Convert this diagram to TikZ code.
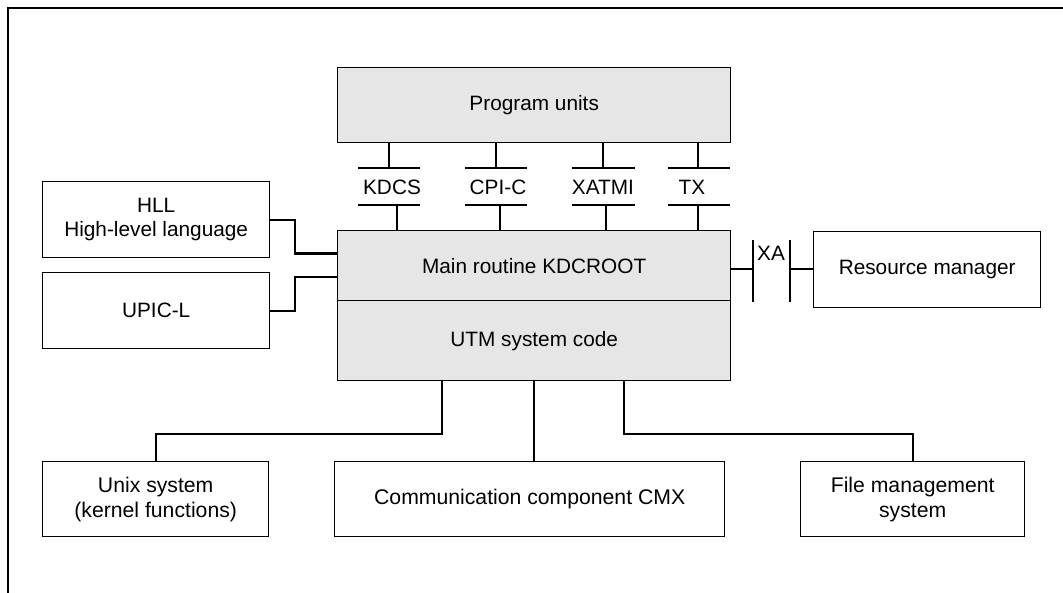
\documentclass[tikz,border=0pt]{standalone}
\usepackage{fontspec}
\setmainfont{Liberation Sans}
\usetikzlibrary{calc}
\definecolor{boxgray}{RGB}{230,230,230}
\tikzset{
  box/.style={draw=black, line width=1.4pt, inner sep=0pt, anchor=north west, align=center,
    font=\fontsize{20.8}{24}\selectfont},
  graybox/.style={box, fill=boxgray},
  lowbox/.style={box, font=\fontsize{21.2}{25}\selectfont},
  conn/.style={draw=black, line width=2.2pt},
  tick/.style={draw=black, line width=1.3pt},
  iflabel/.style={inner sep=0pt, font=\fontsize{20.8}{24}\selectfont},
}
\begin{document}
\begin{tikzpicture}[x=1pt, y=-1pt]
\useasboundingbox (0,0) rectangle (1063,593);
% outer frame (top and left only)
\draw[line width=1.5pt] (8,593) -- (8,8) -- (1063,8);

% main blocks
\node[graybox, minimum width=393pt, minimum height=75pt] (pu) at (337,67) {Program units};
\node[graybox, minimum width=393pt, minimum height=70pt] (mr) at (337,230) {Main routine KDCROOT};
\node[graybox, minimum width=393pt, minimum height=80pt] (utm) at (337,300) {UTM system code};

% left blocks
\node[box, minimum width=227pt, minimum height=76pt] (hll) at (42,181) {HLL\\High-level language};
\node[box, minimum width=227pt, minimum height=76pt] (upic) at (42,272) {UPIC-L};

% resource manager
\node[box, minimum width=227pt, minimum height=76pt] (rm) at (813,231) {Resource manager};

% bottom blocks
\node[lowbox, minimum width=226pt, minimum height=75pt] (unix) at (42,461) {Unix system\\(kernel functions)};
\node[lowbox, minimum width=390pt, minimum height=75pt] (cmx) at (334,461) {Communication component CMX};
\node[lowbox, minimum width=224pt, minimum height=75pt] (fms) at (800,461) {File management\\system};

% interface labels
\node[iflabel] (kdcs) at (392,187) {KDCS};
\node[iflabel] (cpic) at (498,187) {CPI-C};
\node[iflabel] (xatmi) at (603,187) {XATMI};
\node[iflabel] (tx) at (692,187) {TX};
\node[iflabel] (xa) at (771,253) {XA};

% interface ticks: upper stem, upper bar, lower bar, lower stem
\foreach \up/\lo/\bl/\br in {389/397/358/420, 496/500/465/527, 603/606/572/635, 698/698/668/730}{
  \draw[tick] (\up,142) -- (\up,168);
  \draw[tick] (\bl,168) -- (\br,168);
  \draw[tick] (\bl,205) -- (\br,205);
  \draw[tick] (\lo,205) -- (\lo,230);
}

% XA interface
\coordinate (xaL) at (753,269);
\coordinate (xaR) at (790,269);
\draw[tick] (753,240) -- (753,302);
\draw[tick] (790,240) -- (790,302);
\draw[tick] (mr.east |- xaL) -- (xaL);
\draw[tick] (xaR) -- (xaR -| rm.west);

% left connectors
\coordinate (jx) at (295,0);
\draw[conn] (hll.east) -- (hll.east -| jx) |- ($(mr.north west)!0.33!(mr.south west)$);
\draw[conn] (upic.east) -- (upic.east -| jx) |- ($(mr.north west)!0.66!(mr.south west)$);

% bottom connectors
\coordinate (bl) at (442,434);
\coordinate (br) at (624,434);
\draw[conn] (utm.south -| bl) -- (bl) -| (unix.north);
\draw[conn] (utm.south) -- (utm.south |- cmx.north);
\draw[conn] (utm.south -| br) -- (br) -| (fms.north);
\end{tikzpicture}
\end{document}
